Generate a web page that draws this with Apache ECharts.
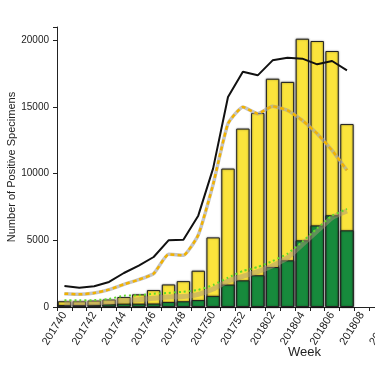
<!DOCTYPE html>
<html><head><meta charset="utf-8">
<script src="https://cdn.jsdelivr.net/npm/echarts@6/dist/echarts.min.js"></script>
<style>html,body{margin:0;padding:0;background:#fff}#c{width:375px;height:375px}</style>
</head><body><div id="c"></div>
<script>
const weeks = ['201740','201741','201742','201743','201744','201745','201746','201747','201748','201749','201750','201751','201752','201801','201802','201803','201804','201805','201806','201807','201808','201809','201810'];
const totalPositive = [430,430,480,560,750,950,1270,1690,1940,2720,5220,10380,13380,14550,17120,16880,20120,19950,19200,13720];
const greenPositive = [150,150,160,200,250,250,260,380,430,520,830,1680,2000,2380,3000,3500,5000,6120,6880,5750];
const blackLine = [1580,1450,1550,1880,2550,3100,3750,5000,5050,6850,10400,15750,17650,17375,18500,18700,18625,18200,18450,17750];
const yellowDashed = [1000,950,1050,1300,1700,2050,2500,3950,3880,5400,9200,13750,15000,14500,15050,14750,14000,13000,11750,10250];
const grayLower = [300,300,320,380,500,550,650,750,780,950,1350,1950,2300,2650,3100,3700,4700,5700,6700,7200];
const greenDotted = [500,500,520,600,850,880,1000,1050,1150,1280,1650,2200,2700,3000,3450,4000,4900,5900,6850,7350];
const yTicks = [0,5000,10000,15000,20000];

const chart = echarts.init(document.getElementById('c'), null, {renderer:'canvas'});
const font = 'Liberation Sans, Arial, sans-serif';
const barStyle = (c) => ({color:c, borderColor:'#222', borderWidth:1, shadowColor:'rgba(0,0,0,0.45)', shadowBlur:2});
chart.setOption({
  animation:false,
  grid:{left:57, top:27, bottom:68, right:-24, containLabel:false, outerBoundsMode:'none'},
  xAxis:{
    type:'category', data:weeks, boundaryGap:true,
    axisLine:{lineStyle:{color:'#222', width:1}},
    axisTick:{show:true, interval:0, length:4, lineStyle:{color:'#222'}},
    axisLabel:{interval:1, rotate:58, margin:6, fontSize:11, color:'#222', fontFamily:font, hideOverlap:false}
  },
  yAxis:{
    type:'value', min:0, max:21000, interval:5000,
    name:'Number of Positive Specimens', nameLocation:'middle', nameGap:40, nameMoveOverlap:false,
    nameTextStyle:{fontSize:11, color:'#222', fontFamily:font},
    axisLine:{show:true, lineStyle:{color:'#222', width:1}},
    axisTick:{show:true, length:4, lineStyle:{color:'#222'}},
    axisLabel:{fontSize:10, color:'#222', fontFamily:font, margin:8,
      formatter:(v)=> yTicks.indexOf(v) >= 0 ? String(v) : ''},
    splitLine:{show:false}
  },
  graphic:[{type:'text', left:288, top:346, style:{text:'Week', font:'13px '+font, fill:'#222'}}],
  series:[
    {type:'bar', data:totalPositive, barCategoryGap:'10%', barGap:'-100%', itemStyle:barStyle('#FBE43C'), z:2},
    {type:'bar', data:greenPositive, barCategoryGap:'10%', barGap:'-100%', itemStyle:barStyle('#178A3C'), z:3},
    {type:'line', data:blackLine, symbol:'none', lineStyle:{color:'#111', width:2}, z:6},
    {type:'line', data:yellowDashed, symbol:'none', smooth:0.15, lineStyle:{color:'rgba(165,165,165,0.65)', width:3.5}, z:6},
    {type:'line', data:yellowDashed, symbol:'none', smooth:0.15, lineStyle:{color:'#F2B200', width:2.5, type:[4,3]}, z:7},
    {type:'line', data:grayLower, symbol:'none', smooth:0.15, lineStyle:{color:'rgba(170,150,120,0.5)', width:5}, z:6},
    {type:'line', data:greenDotted, symbol:'none', smooth:0.15, lineStyle:{color:'#5FD82A', width:2, type:[2,3]}, z:7}
  ]
});
</script></body></html>
